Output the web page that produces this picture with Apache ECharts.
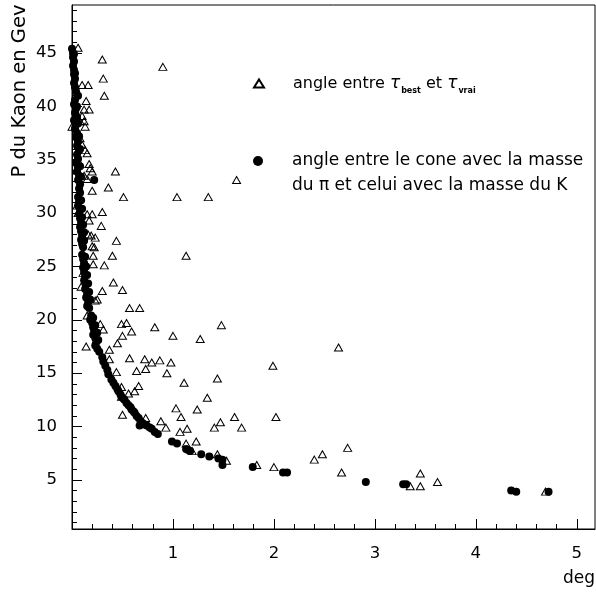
<!DOCTYPE html>
<html>
<head>
<meta charset="utf-8">
<script src="https://cdn.jsdelivr.net/npm/echarts@6/dist/echarts.min.js"></script>
<style>
  html, body { margin: 0; padding: 0; background: #fff; }
  #chart { width: 596px; height: 594px; }
</style>
</head>
<body>
<div id="chart"></div>
<script>
// Angle between the cone built with the pi mass and the one built with the K mass [deg, GeV]
const conePoints = [
  [0.00,45.4],[0.01,45.0],[0.01,44.6],[0.02,44.2],[0.01,43.8],[0.02,43.4],[0.02,43.0],[0.03,42.6],
  [0.02,42.2],[0.03,41.8],[0.04,41.4],[0.06,41.0],[0.03,40.6],[0.02,40.2],[0.04,39.8],[0.03,39.4],
  [0.05,39.0],[0.02,38.7],[0.04,38.3],[0.03,37.9],[0.05,37.5],[0.04,37.1],[0.06,36.7],[0.05,36.3],
  [0.07,35.9],[0.05,35.5],[0.06,35.1],[0.04,34.7],[0.06,34.3],[0.05,33.9],[0.07,33.5],[0.06,33.1],
  [0.08,32.7],[0.22,33.1],[0.07,32.3],[0.08,31.9],
  [0.02,44.9],[0.03,43.1],[0.05,40.0],[0.06,38.4],[0.07,37.2],[0.08,36.0],[0.08,34.4],[0.09,33.4],
  [0.06,31.5],[0.07,31.1],[0.06,30.7],[0.08,30.3],[0.07,29.9],[0.08,29.5],[0.09,29.1],[0.08,28.7],
  [0.09,28.3],[0.10,27.9],[0.09,27.5],[0.10,27.1],[0.11,26.8],
  [0.09,31.2],[0.10,30.4],[0.10,29.6],[0.11,28.9],[0.12,28.2],[0.12,27.4],
  [0.10,26.1],[0.11,25.7],[0.12,25.3],[0.11,24.9],[0.12,24.5],[0.13,24.1],[0.12,23.7],[0.14,23.3],
  [0.13,22.9],[0.15,22.5],[0.14,22.1],[0.16,21.7],[0.15,21.3],[0.17,21.1],
  [0.13,25.9],[0.14,25.0],[0.15,24.2],[0.16,23.4],[0.17,22.6],[0.18,21.9],
  [0.19,20.4],[0.18,20.0],[0.20,19.7],[0.21,19.3],[0.22,19.0],[0.21,18.6],[0.23,18.3],[0.24,17.9],
  [0.23,17.6],[0.25,17.3],[0.27,17.0],
  [0.21,20.2],[0.23,19.5],[0.25,18.8],[0.26,18.1],
  [0.30,16.5],[0.31,16.1],[0.33,15.7],[0.35,15.3],[0.36,14.9],[0.39,14.4],[0.41,14.1],[0.43,13.8],
  [0.45,13.5],[0.46,13.3],[0.48,13.0],[0.49,12.8],[0.51,12.6],[0.52,12.5],[0.54,12.2],[0.56,12.0],
  [0.58,11.8],[0.59,11.6],[0.61,11.4],[0.62,11.3],[0.64,11.0],[0.66,10.8],[0.67,10.1],[0.68,10.5],
  [0.70,10.3],[0.72,10.2],[0.74,10.1],[0.77,9.9],[0.79,9.8],[0.82,9.5],[0.85,9.3],
  [0.99,8.6],[1.04,8.4],[1.13,7.9],[1.15,7.8],[1.17,7.7],[1.28,7.4],[1.36,7.2],[1.45,7.0],
  [1.49,6.9],[1.49,6.4],[1.79,6.2],[2.09,5.7],[2.13,5.7],[2.91,4.8],[3.28,4.6],[3.31,4.6],
  [4.35,4.0],[4.40,3.9],[4.72,3.9]
];

// Angle between tau_best and tau_vrai [deg, GeV]
const tauPoints = [
  [0.06,45.5],[0.30,44.4],[0.90,43.7],[0.31,42.6],[0.10,42.0],[0.16,42.0],[0.32,41.0],[0.14,40.5],
  [0.12,39.7],[0.17,39.7],[0.10,39.1],[0.08,38.6],[0.12,38.6],[0.13,38.1],[0.00,38.1],[0.08,37.0],
  [0.10,36.4],[0.13,35.9],[0.15,35.6],[0.08,34.6],[0.17,34.6],[0.18,34.2],[0.20,33.9],[0.12,33.5],
  [0.15,33.2],[0.05,34.0],[0.43,33.9],[0.36,32.4],
  [0.20,32.1],[0.51,31.5],[1.04,31.5],[1.35,31.5],[1.63,33.1],[1.13,26.0],
  [0.05,30.7],[0.06,30.0],[0.15,29.9],[0.20,29.9],[0.30,30.1],[0.17,29.3],[0.29,28.8],[0.16,28.0],
  [0.19,27.9],[0.23,27.7],[0.44,27.4],[0.20,26.9],[0.22,26.8],[0.40,26.0],[0.21,26.0],[0.21,25.2],
  [0.32,25.1],[0.11,24.4],[0.41,23.5],[0.09,23.1],[0.30,22.7],[0.50,22.8],[0.25,21.9],[0.23,21.8],
  [0.57,21.1],[0.67,21.1],[0.15,20.4],
  [0.49,19.6],[0.54,19.7],[0.28,19.6],[0.31,19.1],[0.59,18.9],[0.82,19.3],[1.48,19.5],[0.50,18.5],
  [1.00,18.5],[1.27,18.2],[0.45,17.8],[0.14,17.5],[0.37,17.2],[2.64,17.4],
  [0.37,16.3],[0.57,16.4],[0.72,16.3],[0.79,16.0],[0.87,16.2],[0.98,16.0],[0.73,15.4],[0.64,15.2],
  [0.44,15.1],[0.94,15.0],[1.99,15.7],[1.11,14.1],[1.44,14.5],
  [0.49,13.7],[0.56,13.1],[0.62,13.3],[0.66,13.8],[0.49,12.8],[1.34,12.7],[1.03,11.7],[1.08,10.9],
  [1.24,11.6],[0.50,11.1],[0.73,10.8],[0.88,10.5],[0.93,9.9],[1.07,9.5],[1.14,9.8],[1.41,9.9],
  [1.47,10.4],[1.61,10.9],[1.68,9.9],[2.02,10.9],
  [1.13,8.4],[1.23,8.6],[1.19,7.7],[1.44,7.4],[1.53,6.8],[1.83,6.4],[2.00,6.2],[2.40,6.9],
  [2.48,7.4],[2.73,8.0],[2.67,5.7],[3.45,5.6],[3.62,4.8],[3.35,4.4],[3.45,4.4],[4.69,3.9]
];

// Axis ranges and tick labels
const angleRange = [0, 5.18];
const momentumRange = [0.4, 49.5];
const angleLabels = [1, 2, 3, 4, 5];
const momentumLabels = [5, 10, 15, 20, 25, 30, 35, 40, 45];
const angleMinorTicks = [];
for (let i = 1; i <= 25; i++) angleMinorTicks.push(+(i * 0.2).toFixed(1));
const momentumMinorTicks = [];
for (let i = 1; i <= 49; i++) momentumMinorTicks.push(i);

// Legend wording
const tauLegend = '{t|angle entre }{g|τ}{s|best}{t| et }{g|τ}{s|vrai}';
const coneLegend = ['angle entre le cone avec la masse', 'du π et celui avec la masse du K'];

const FONT = '"DejaVu Sans", sans-serif';
const gridBox = { left: 72, right: 1, top: 5, bottom: 65 };

const chart = echarts.init(document.getElementById('chart'), null, { renderer: 'canvas' });

const hiddenAxisParts = {
  axisLine: { show: false },
  splitLine: { show: false },
  axisLabel: { show: false }
};

chart.setOption({
  animation: false,
  backgroundColor: '#fff',
  grid: [
    Object.assign({ show: true, borderColor: '#000', borderWidth: 1 }, gridBox),
    Object.assign({ show: false }, gridBox)
  ],
  xAxis: [
    {
      type: 'value', gridIndex: 0, min: angleRange[0], max: angleRange[1],
      axisLine: { show: true, lineStyle: { color: '#000', width: 1 } },
      splitLine: { show: false },
      axisTick: { show: true, inside: true, length: 10, customValues: angleLabels, lineStyle: { color: '#000' } },
      axisLabel: { customValues: angleLabels, margin: 16, color: '#000', fontFamily: FONT, fontSize: 16.5 }
    },
    Object.assign({
      type: 'value', gridIndex: 1, min: angleRange[0], max: angleRange[1],
      axisTick: { show: true, inside: true, length: 5, customValues: angleMinorTicks, lineStyle: { color: '#000' } }
    }, hiddenAxisParts)
  ],
  yAxis: [
    {
      type: 'value', gridIndex: 0, min: momentumRange[0], max: momentumRange[1],
      axisLine: { show: true, lineStyle: { color: '#000', width: 1 } },
      splitLine: { show: false },
      axisTick: { show: true, inside: true, length: 10, customValues: momentumLabels, lineStyle: { color: '#000' } },
      axisLabel: { customValues: momentumLabels, margin: 15, color: '#000', fontFamily: FONT, fontSize: 16.5 }
    },
    Object.assign({
      type: 'value', gridIndex: 1, min: momentumRange[0], max: momentumRange[1],
      axisTick: { show: true, inside: true, length: 5, customValues: momentumMinorTicks, lineStyle: { color: '#000' } }
    }, hiddenAxisParts)
  ],
  legend: [
    {
      data: ['tau'],
      left: 253, top: 75, padding: 0,
      itemWidth: 10, itemHeight: 8,
      formatter: () => tauLegend,
      textStyle: {
        padding: [0, 0, 0, 24],
        rich: {
          t: { fontFamily: FONT, fontSize: 16, color: '#000', lineHeight: 22 },
          g: { fontFamily: FONT, fontStyle: 'italic', fontSize: 17, color: '#000', lineHeight: 22 },
          s: { fontFamily: FONT, fontWeight: 'bold', fontSize: 8, color: '#000', verticalAlign: 'bottom', lineHeight: 8, padding: [0, 0, 0, 1] }
        }
      }
    },
    {
      data: ['cone'],
      left: 253, top: 151, padding: 0,
      itemWidth: 10, itemHeight: 10,
      formatter: () => coneLegend[0],
      textStyle: { fontFamily: FONT, fontSize: 17, color: '#000', lineHeight: 20, padding: [0, 0, 0, 24] }
    }
  ],
  graphic: [
    {
      type: 'text', x: 292, y: 186,
      style: { text: coneLegend[1], font: '17px "DejaVu Sans", sans-serif', fill: '#000',
               textAlign: 'left', textVerticalAlign: 'middle', align: 'left', verticalAlign: 'middle' }
    },
    {
      type: 'text', x: 20, y: 91, rotation: Math.PI / 2,
      style: { text: 'P du Kaon en Gev', font: '19.5px "DejaVu Sans", sans-serif', fill: '#000',
               textAlign: 'center', textVerticalAlign: 'middle', align: 'center', verticalAlign: 'middle' }
    },
    {
      type: 'text', x: 595, y: 579,
      style: { text: 'deg', font: '17px "DejaVu Sans", sans-serif', fill: '#000',
               textAlign: 'right', textVerticalAlign: 'middle', align: 'right', verticalAlign: 'middle' }
    }
  ],
  series: [
    {
      name: 'cone', type: 'scatter', xAxisIndex: 0, yAxisIndex: 0,
      data: conePoints, symbol: 'circle', symbolSize: 8,
      itemStyle: { color: '#000', opacity: 1 },
      emphasis: { disabled: true }
    },
    {
      name: 'tau', type: 'scatter', xAxisIndex: 0, yAxisIndex: 0,
      data: tauPoints, symbol: 'triangle', symbolSize: [8, 7],
      itemStyle: { color: 'rgba(255,255,255,0)', borderColor: '#000', borderWidth: 1, opacity: 1 },
      emphasis: { disabled: true }
    }
  ]
});
</script>
</body>
</html>
